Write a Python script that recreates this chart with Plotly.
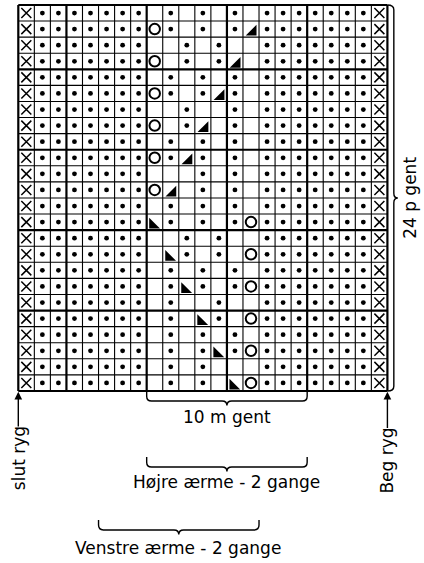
import plotly.graph_objects as go

# ---------------- data ----------------
# 10-stitch lace repeat, rows listed top -> bottom
# '.' = dot, '-' = empty, 'o' = yarn over (open circle),
# 'k' = right-leaning decrease (◢), 's' = left-leaning decrease (◣)
repeat_rows = [
    "-.-.-.-...",
    "o.-.-.k...",
    "--.-.--...",
    "o-.-.k-...",
    "-.-.-.-...",
    "o.-.k.-...",
    "--.--.-...",
    "o-.k-.-...",
    "-.-.-.-...",
    "o.k.-.-...",
    "---.-.-...",
    "ok-.-.-...",
    "-.-.-.-...",
    "s.-.-.o...",
    "--.-.--...",
    "-s.-.-o...",
    "-.-.-.-...",
    "-.s.-.o...",
    "-.--.--...",
    "-.-s.-o...",
    "-.-.-.-...",
    "-.-.s.o...",
    "-.-.---...",
    "-.-.-so...",
]
left_edge = "x......."     # edge stitch + 7 dots
right_edge = "....x"       # 4 dots + edge stitch

label_rows = "24 p gent"
label_repeat = "10 m gent"
label_right_sleeve = "Højre ærme - 2 gange"
label_left_sleeve = "Venstre ærme - 2 gange"
label_end = "slut ryg"
label_begin = "Beg ryg"

# ---------------- build ----------------
full_rows = [left_edge + r + right_edge for r in repeat_rows]
n_rows = len(full_rows)
n_cols = len(full_rows[0])

pts = {c: ([], []) for c in ".oxks"}
for i, row in enumerate(full_rows):
    y = n_rows - i
    for j, ch in enumerate(row):
        if ch in pts:
            pts[ch][0].append(j + 1)
            pts[ch][1].append(y)

fig = go.Figure()
fig.add_trace(go.Scatter(x=pts["."][0], y=pts["."][1], mode="markers",
                         marker=dict(symbol="circle", size=4.8, color="black", line=dict(width=0))))
fig.add_trace(go.Scatter(x=pts["o"][0], y=pts["o"][1], mode="markers",
                         marker=dict(symbol="circle-open", size=10.5, color="black", line=dict(width=2))))
fig.add_trace(go.Scatter(x=pts["x"][0], y=pts["x"][1], mode="markers",
                         marker=dict(symbol="x-thin-open", size=10, color="black", line=dict(width=1.5, color="black"))))
tri_dx, tri_dy = 0.12, -0.18
fig.add_trace(go.Scatter(x=[v + tri_dx for v in pts["k"][0]], y=[v + tri_dy for v in pts["k"][1]], mode="markers",
                         marker=dict(symbol="triangle-se", size=12, color="black", line=dict(width=0))))
fig.add_trace(go.Scatter(x=[v - tri_dx for v in pts["s"][0]], y=[v + tri_dy for v in pts["s"][1]], mode="markers",
                         marker=dict(symbol="triangle-sw", size=12, color="black", line=dict(width=0))))

shapes = []
thick_v = {0, 3, 8, 13, 18, n_cols}
thick_h = {0, 5, 10, 15, 20, n_rows}
for k in range(n_cols + 1):
    shapes.append(dict(type="line", xref="x", yref="y", x0=0.5 + k, x1=0.5 + k, y0=0.5, y1=n_rows + 0.5,
                       line=dict(color="black", width=2.2 if k in thick_v else 1.1)))
for k in range(n_rows + 1):
    shapes.append(dict(type="line", xref="x", yref="y", x0=0.5, x1=n_cols + 0.5, y0=0.5 + k, y1=0.5 + k,
                       line=dict(color="black", width=2.2 if k in thick_h else 1.1)))


def hbrace(x0, x1, ytop, ymid, ytip, r=0.3):
    xm = (x0 + x1) / 2
    return (f"M {x0},{ytop} L {x0},{ymid + r} Q {x0},{ymid} {x0 + r},{ymid} "
            f"L {xm - r},{ymid} Q {xm},{ymid} {xm},{ytip} Q {xm},{ymid} {xm + r},{ymid} "
            f"L {x1 - r},{ymid} Q {x1},{ymid} {x1},{ymid + r} L {x1},{ytop}")


def vbrace(xin, xmid, xtip, y0, y1, r=0.3):
    ym = (y0 + y1) / 2
    return (f"M {xin},{y1} Q {xmid},{y1} {xmid},{y1 - r} "
            f"L {xmid},{ym + r} Q {xmid},{ym} {xtip},{ym} Q {xmid},{ym} {xmid},{ym - r} "
            f"L {xmid},{y0 + r} Q {xmid},{y0} {xin},{y0}")


bl = dict(color="black", width=1.4)
shapes.append(dict(type="path", xref="x", yref="y", path=hbrace(8.5, 18.5, 0.5, -0.12, -0.4), line=bl))
shapes.append(dict(type="path", xref="x", yref="y", path=hbrace(8.5, 18.5, -3.6, -4.23, -4.5), line=bl))
shapes.append(dict(type="path", xref="x", yref="y", path=hbrace(5.5, 15.5, -7.52, -8.14, -8.42), line=bl))
shapes.append(dict(type="path", xref="x", yref="y", path=vbrace(23.5, 23.9, 24.15, 0.5, 24.5), line=bl))

font = dict(family="DejaVu Sans", size=17, color="black")
ann = [
    dict(x=24.9, y=12.5, text=label_rows, textangle=-90, showarrow=False, font=font),
    dict(x=13.5, y=-1.12, text=label_repeat, showarrow=False, font=font),
    dict(x=13.5, y=-5.16, text=label_right_sleeve, showarrow=False, font=font),
    dict(x=10.45, y=-9.26, text=label_left_sleeve, showarrow=False, font=font),
    dict(x=0.55, y=-3.67, text=label_end, textangle=-90, showarrow=False, font=font),
    dict(x=23.45, y=-3.85, text=label_begin, textangle=-90, showarrow=False, font=font),
    dict(x=0.5, y=0.45, ax=0.5, ay=-1.8, axref="x", ayref="y", text="", showarrow=True,
         arrowhead=2, arrowsize=1.1, arrowwidth=1.4, arrowcolor="black", standoff=0),
    dict(x=23.5, y=0.45, ax=23.5, ay=-1.9, axref="x", ayref="y", text="", showarrow=True,
         arrowhead=2, arrowsize=1.1, arrowwidth=1.4, arrowcolor="black", standoff=0),
]

fig.update_layout(
    width=424, height=563, margin=dict(l=0, r=0, t=0, b=0),
    paper_bgcolor="white", plot_bgcolor="white", showlegend=False,
    shapes=shapes, annotations=ann,
    xaxis=dict(range=[-0.64, 25.78], visible=False, fixedrange=True),
    yaxis=dict(range=[-10.195, 24.81], visible=False, fixedrange=True),
)
fig.write_html("out.html", config={"displayModeBar": False},
               post_script="document.body.style.margin='0';")
